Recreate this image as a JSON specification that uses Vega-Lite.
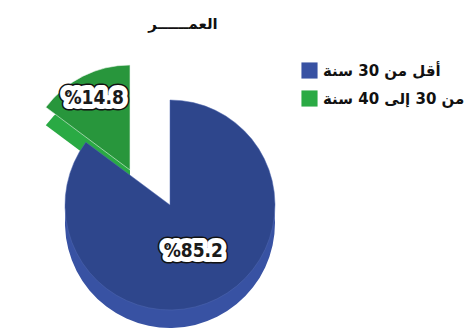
{
  "$schema": "https://vega.github.io/schema/vega-lite/v6.json",
  "width": 340,
  "height": 210,
  "autosize": {"type": "none"},
  "padding": {"left": 0, "top": 100, "right": 125, "bottom": 21},
  "background": "white",
  "title": {
    "text": "العمــــــر",
    "font": "DejaVu Sans",
    "fontSize": 15,
    "fontWeight": "bold",
    "color": "#111111",
    "anchor": "middle",
    "dx": 13,
    "offset": 30
  },
  "data": {
    "values": [
      {"group": "أقل من 30 سنة", "value": 85.2, "label": "%85.2"},
      {"group": "من 30 إلى 40 سنة", "value": 14.8, "label": "%14.8"}
    ]
  },
  "encoding": {
    "theta": {"field": "value", "type": "quantitative", "stack": true},
    "order": {"field": "value", "type": "quantitative", "sort": "descending"}
  },
  "layer": [
    {
      "mark": {"type": "arc", "outerRadius": 105, "xOffset": -40, "yOffset": -17},
      "encoding": {
        "color": {
          "field": "group", "type": "nominal",
          "scale": {"domain": ["أقل من 30 سنة", "من 30 إلى 40 سنة"], "range": ["#3852a3", "#2aaa44"]},
          "legend": {
            "title": null, "orient": "none", "legendX": 301, "legendY": -38,
            "symbolType": "square", "symbolSize": 260, "symbolStrokeWidth": 0,
            "labelFont": "DejaVu Sans", "labelFontSize": 15, "labelFontWeight": "bold",
            "labelColor": "#111111", "rowPadding": 11, "labelOffset": 5, "labelLimit": 200
          }
        },
        "fillOpacity": {"condition": {"test": "datum.group === 'من 30 إلى 40 سنة'", "value": 1}, "value": 0}
      }
    },
    {
      "mark": {"type": "arc", "outerRadius": 105, "xOffset": -40, "yOffset": -35, "stroke": "#e8f4ea", "strokeWidth": 0.6},
      "encoding": {
        "fill": {"value": "#28963c"},
        "fillOpacity": {"condition": {"test": "datum.group === 'من 30 إلى 40 سنة'", "value": 1}, "value": 0},
        "strokeOpacity": {"condition": {"test": "datum.group === 'من 30 إلى 40 سنة'", "value": 1}, "value": 0}
      }
    },
    {
      "mark": {"type": "arc", "outerRadius": 105, "yOffset": 18},
      "encoding": {
        "color": {"field": "group", "type": "nominal"},
        "fillOpacity": {"condition": {"test": "datum.group === 'أقل من 30 سنة'", "value": 1}, "value": 0}
      }
    },
    {
      "mark": {"type": "arc", "outerRadius": 105, "stroke": "#5068b0", "strokeWidth": 0.5},
      "encoding": {
        "fill": {"value": "#2e468c"},
        "fillOpacity": {"condition": {"test": "datum.group === 'أقل من 30 سنة'", "value": 1}, "value": 0},
        "strokeOpacity": {"condition": {"test": "datum.group === 'أقل من 30 سنة'", "value": 1}, "value": 0}
      }
    },
    {
      "mark": {"type": "text", "radius": 52, "font": "DejaVu Sans Condensed, Liberation Sans Narrow, sans-serif", "fontSize": 19, "fontWeight": "bold", "stroke": "#111111", "strokeWidth": 13, "strokeJoin": "round", "fill": "#111111"},
      "encoding": {"text": {"condition": {"test": "datum.group === 'أقل من 30 سنة'", "field": "label"}, "value": ""}}
    },
    {
      "mark": {"type": "text", "radius": 52, "font": "DejaVu Sans Condensed, Liberation Sans Narrow, sans-serif", "fontSize": 19, "fontWeight": "bold", "stroke": "white", "strokeWidth": 10, "strokeJoin": "round", "fill": "white"},
      "encoding": {"text": {"condition": {"test": "datum.group === 'أقل من 30 سنة'", "field": "label"}, "value": ""}}
    },
    {
      "mark": {"type": "text", "radius": 52, "font": "DejaVu Sans Condensed, Liberation Sans Narrow, sans-serif", "fontSize": 19, "fontWeight": "bold", "fill": "#1a1a1a"},
      "encoding": {"text": {"condition": {"test": "datum.group === 'أقل من 30 سنة'", "field": "label"}, "value": ""}}
    },
    {
      "mark": {"type": "text", "radius": 80, "xOffset": -40, "yOffset": -35, "font": "DejaVu Sans Condensed, Liberation Sans Narrow, sans-serif", "fontSize": 19, "fontWeight": "bold", "stroke": "#111111", "strokeWidth": 13, "strokeJoin": "round", "fill": "#111111"},
      "encoding": {"text": {"condition": {"test": "datum.group === 'من 30 إلى 40 سنة'", "field": "label"}, "value": ""}}
    },
    {
      "mark": {"type": "text", "radius": 80, "xOffset": -40, "yOffset": -35, "font": "DejaVu Sans Condensed, Liberation Sans Narrow, sans-serif", "fontSize": 19, "fontWeight": "bold", "stroke": "white", "strokeWidth": 10, "strokeJoin": "round", "fill": "white"},
      "encoding": {"text": {"condition": {"test": "datum.group === 'من 30 إلى 40 سنة'", "field": "label"}, "value": ""}}
    },
    {
      "mark": {"type": "text", "radius": 80, "xOffset": -40, "yOffset": -35, "font": "DejaVu Sans Condensed, Liberation Sans Narrow, sans-serif", "fontSize": 19, "fontWeight": "bold", "fill": "#1a1a1a"},
      "encoding": {"text": {"condition": {"test": "datum.group === 'من 30 إلى 40 سنة'", "field": "label"}, "value": ""}}
    }
  ],
  "config": {"view": {"stroke": null}}
}
